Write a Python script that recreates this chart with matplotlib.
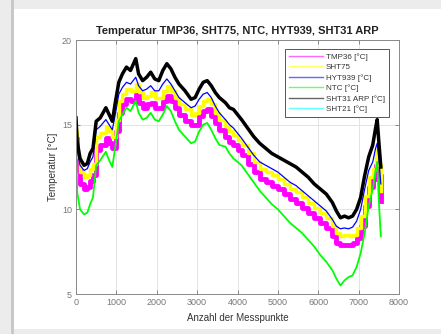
"""
Temperaturverlauf mehrerer Sensoren
"""
import numpy as np
import matplotlib.pyplot as plt
from matplotlib.patches import Rectangle

plt.rcParams['font.family'] = ['Liberation Sans', 'DejaVu Sans']

# Messpunkte (Stuetzstellen)
messpunkt = [0, 30, 100, 200, 280, 350, 420, 500, 600, 740,
             820, 900, 980, 1060, 1150, 1250, 1350, 1480, 1550, 1650,
             1750, 1850, 1950, 2050, 2150, 2250, 2350, 2450, 2550, 2700,
             2850, 2950, 3050, 3150, 3250, 3350, 3450, 3550, 3700, 3800,
             3900, 4000, 4100, 4250, 4400, 4550, 4700, 4850, 5000, 5150,
             5300, 5450, 5600, 5750, 5900, 6050, 6200, 6350, 6450, 6550,
             6650, 6750, 6850, 6950, 7050, 7150, 7250, 7350, 7420, 7460,
             7500, 7550]

tmp36 = [14.2, 12.3, 11.5, 11.2, 11.3, 11.7, 12.0, 13.5, 13.8, 14.2,
         13.9, 13.6, 14.6, 15.7, 16.2, 16.5, 16.4, 16.8, 16.3, 16.0,
         16.2, 16.3, 16.0, 16.0, 16.4, 16.7, 16.4, 16.0, 15.6, 15.2,
         15.0, 15.0, 15.5, 15.8, 15.9, 15.5, 15.1, 14.7, 14.3, 14.0,
         13.8, 13.5, 13.2, 12.7, 12.2, 11.8, 11.6, 11.4, 11.2, 10.9,
         10.6, 10.4, 10.1, 9.8, 9.5, 9.2, 8.9, 8.4, 8.0, 7.9,
         7.9, 7.9, 8.0, 8.3, 9.0, 10.2, 11.3, 11.8, 12.6, 12.9,
         12.0, 10.5]

sht75 = [14.6, 13.1, 12.2, 11.9, 12.0, 12.4, 12.7, 14.3, 14.5, 14.9,
         14.6, 14.3, 15.3, 16.4, 16.8, 17.1, 17.0, 17.4, 16.9, 16.6,
         16.7, 16.9, 16.6, 16.6, 17.0, 17.3, 17.0, 16.6, 16.2, 15.9,
         15.6, 15.7, 16.1, 16.4, 16.5, 16.2, 15.7, 15.3, 14.9, 14.6,
         14.4, 14.1, 13.8, 13.3, 12.8, 12.4, 12.2, 12.0, 11.8, 11.5,
         11.2, 11.0, 10.7, 10.4, 10.1, 9.8, 9.5, 9.0, 8.6, 8.45,
         8.5, 8.45, 8.5, 8.9, 9.6, 10.8, 11.9, 12.4, 13.2, 13.5,
         12.6, 11.1]

hyt939 = [15.0, 13.5, 12.6, 12.3, 12.4, 12.8, 13.1, 14.7, 14.9, 15.3,
          15.0, 14.7, 15.7, 16.8, 17.2, 17.5, 17.4, 17.8, 17.3, 17.0,
          17.1, 17.3, 17.0, 17.0, 17.4, 17.7, 17.4, 17.0, 16.6, 16.3,
          16.0, 16.1, 16.5, 16.8, 16.9, 16.6, 16.1, 15.7, 15.3, 15.0,
          14.8, 14.5, 14.2, 13.7, 13.2, 12.8, 12.6, 12.4, 12.2, 11.9,
          11.6, 11.4, 11.1, 10.8, 10.5, 10.2, 9.9, 9.4, 9.0, 8.85,
          8.9, 8.85, 8.95, 9.3, 10.0, 11.2, 12.3, 12.8, 13.6, 13.9,
          13.0, 11.5]

ntc = [14.5, 11.0, 10.0, 9.7, 9.8, 10.3, 10.7, 12.6, 12.9, 13.4,
       12.9, 12.5, 13.8, 15.2, 15.6, 16.0, 15.8, 16.4, 15.7, 15.3,
       15.4, 15.7, 15.3, 15.2, 15.6, 16.1, 15.8, 15.2, 14.7, 14.3,
       13.9, 14.0, 14.6, 15.0, 15.1, 14.7, 14.2, 13.8, 13.7, 13.3,
       13.0, 12.8, 12.6, 12.1, 11.6, 11.1, 10.7, 10.3, 10.0, 9.6,
       9.2, 8.9, 8.6, 8.2, 7.8, 7.3, 6.9, 6.4, 5.9, 5.5,
       5.8, 6.0, 6.1, 6.6, 7.4, 8.6, 10.2, 11.2, 12.3, 12.8,
       10.5, 8.4]

sht31 = [15.4, 14.0, 13.0, 12.6, 12.7, 13.3, 13.6, 15.2, 15.4, 16.0,
         15.6, 15.2, 16.4, 17.5, 18.0, 18.4, 18.2, 18.9, 18.0, 17.6,
         17.8, 18.1, 17.7, 17.6, 18.2, 18.6, 18.3, 17.8, 17.4, 17.0,
         16.5, 16.6, 17.1, 17.5, 17.6, 17.3, 16.9, 16.6, 16.3, 16.0,
         15.9, 15.6, 15.3, 14.8, 14.3, 13.9, 13.6, 13.3, 13.1, 12.9,
         12.7, 12.5, 12.2, 11.9, 11.5, 11.2, 10.9, 10.4, 9.9, 9.5,
         9.6, 9.5, 9.6, 10.0, 10.7, 12.0, 13.1, 13.8, 14.8, 15.3,
         14.0, 12.5]

# SHT21 liefert keine sichtbaren Werte (nur in der Legende)
sht21 = []

namen = ['TMP36 [°C]', 'SHT75', 'HYT939 [°C]', 'NTC [°C]', 'SHT31 ARP [°C]', 'SHT21 [°C]']
farben = ['#ff00ff', '#ffff00', '#0000ff', '#00ff00', '#000000', '#00ffff']
breiten = [3.5, 2.5, 0.9, 1.3, 2.5, 1.0]
stufen = ['steps-post', 'steps-post', 'default', 'default', 'default']

fig = plt.figure(figsize=(4.41, 3.34), dpi=100, facecolor='#ececec')
# weisses Fenster mit grauem Rand
fig.patches.append(Rectangle((14 / 441, 5 / 334), 1, (334 - 14) / 334,
                             transform=fig.transFigure, facecolor='white',
                             edgecolor='none', zorder=-2))
fig.patches.append(Rectangle((11 / 441, 0), 3 / 441, 1,
                             transform=fig.transFigure, facecolor='#c8c8c8',
                             edgecolor='none', zorder=-2))

ax = fig.add_axes([76 / 441, 40 / 334, 323 / 441, 254 / 334])
ax.set_zorder(2)

x = np.array(messpunkt)
reihen = [tmp36, sht75, hyt939, ntc, sht31]
for werte, name, farbe, lw, ds in zip(reihen, namen, farben, breiten, stufen):
    ax.plot(x, werte, color=farbe, lw=lw, label=name, drawstyle=ds)
ax.plot(np.array(sht21, dtype=float), np.array(sht21, dtype=float),
        color=farben[5], lw=1.0, label=namen[5])

ax.set_xlim(0, 8000)
ax.set_ylim(5, 20)
ax.set_xticks(np.arange(0, 8001, 1000))
ax.set_yticks([5, 10, 15, 20])
ax.grid(True, color='#e3e3e3', lw=0.7)
ax.set_axisbelow(True)
ax.tick_params(direction='in', length=3, width=0.6, colors='#777777',
               labelsize=6.5, labelcolor='#777777', top=True, right=True, pad=3)
for s in ax.spines.values():
    s.set_color('#8a8a8a')
    s.set_linewidth(0.7)

ax.set_title('Temperatur TMP36, SHT75, NTC, HYT939, SHT31 ARP',
             fontsize=8, fontweight='bold', color='#222222', pad=4)
ax.set_ylabel('Temperatur [°C]', fontsize=7, color='#333333', labelpad=3)
ax.set_xlabel('Anzahl der Messpunkte', fontsize=7, color='#333333', labelpad=4)

leg = ax.legend(loc='upper right', bbox_to_anchor=(1 - 10 / 323, 1 - 9 / 254),
                fontsize=5.8, handlelength=4.2, borderaxespad=0, labelspacing=0.35,
                fancybox=False, framealpha=1, borderpad=0.5, handletextpad=0.4)
leg.get_frame().set_edgecolor('#555555')
leg.get_frame().set_linewidth(0.7)
for t in leg.get_texts():
    t.set_color('#333333')
for h in leg.get_lines():
    h.set_linewidth(1.0)
    h.set_alpha(0.6)

fig.savefig('out.png', dpi=100, facecolor=fig.get_facecolor())
